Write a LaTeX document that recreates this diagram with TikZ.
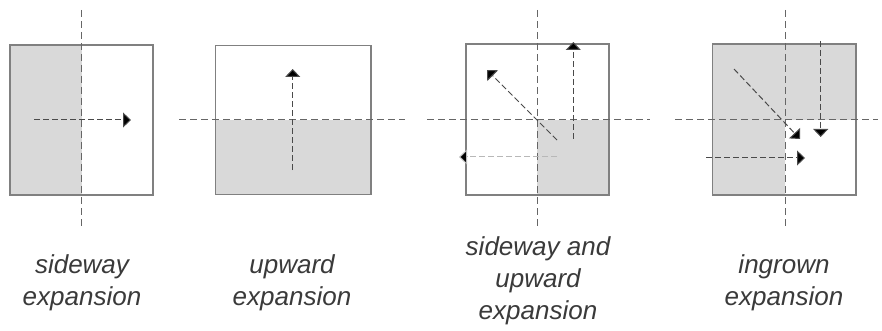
\documentclass[tikz,border=0pt]{standalone}
\usepackage{fontspec}
\setmainfont{Liberation Sans}
\usetikzlibrary{arrows.meta}
\definecolor{shade}{HTML}{D9D9D9}
\definecolor{frame}{HTML}{808080}
\definecolor{axis}{HTML}{666666}
\definecolor{shaft}{HTML}{4A4A4A}
\definecolor{lightshaft}{HTML}{B8B8B8}
\definecolor{txt}{HTML}{3A3A3A}
\tikzset{
  boxframe/.style={draw=frame, line width=1.2pt},
  shadearea/.style={fill=shade, draw=none},
  axisline/.style={draw=axis, line width=1pt, dash pattern=on 7pt off 4pt},
  growarrow/.style={draw=shaft, line width=1pt, dash pattern=on 6pt off 3pt,
    -{Triangle[length=8pt,width=15pt,fill=black]}},
  lightarrow/.style={growarrow, draw=lightshaft},
  caption/.style={font=\itshape\fontsize{26}{32}\selectfont, text=txt, align=center, inner sep=0pt}
}
\begin{document}
\begin{tikzpicture}[x=1pt,y=-1pt]
\useasboundingbox (0,0) rectangle (882,331);
% ---------- panel 1: sideway expansion
\fill[shadearea] (10,45) rectangle (81.5,195);
\draw[boxframe] (10,45) rectangle (153,195);
\draw[axisline] (81.5,10) -- (81.5,228);
\coordinate (a1s) at (34,120);
\coordinate (a1e) at (131,120);
\draw[growarrow] (a1s) -- (a1e);
\node[caption] (c1) at (82,283) {sideway\\expansion};
% ---------- panel 2: upward expansion
\fill[shadearea] (215.7,120) rectangle (371,194.5);
\draw[boxframe] (215.7,45.5) rectangle (371,194.5);
\draw[axisline] (179,120) -- (405,120);
\coordinate (a2s) at (292.7,170);
\coordinate (a2e) at (292.7,69);
\draw[growarrow] (a2s) -- (a2e);
\node[caption] (c2) at (292,283) {upward\\expansion};
% ---------- panel 3: sideway and upward expansion
\fill[shadearea] (537.3,120) rectangle (609,195);
\draw[boxframe] (466,44) rectangle (609,195);
\draw[axisline] (537.3,10) -- (537.3,228);
\draw[axisline] (427,120) -- (650,120);
\coordinate (a3us) at (573.3,139);
\coordinate (a3ue) at (573.3,42);
\coordinate (a3ds) at (557,140);
\coordinate (a3de) at (487,70);
\coordinate (a3ls) at (557,157);
\coordinate (a3le) at (459,157);
\draw[growarrow] (a3us) -- (a3ue);
\draw[growarrow] (a3ds) -- (a3de);
\draw[lightarrow] (a3ls) -- (a3le);
\node[caption] (c3) at (538,281) {sideway and\\upward\\expansion};
% ---------- panel 4: ingrown expansion
\fill[shadearea] (712.7,44) -- (856,44) -- (856,120) -- (785,120) -- (785,195) -- (712.7,195) -- cycle;
\draw[boxframe] (712.7,44) rectangle (856,195);
\draw[axisline] (785,10) -- (785,228);
\draw[axisline] (675,120) -- (878,120);
\coordinate (a4ds) at (734,69);
\coordinate (a4de) at (800,139);
\coordinate (a4vs) at (820.7,41);
\coordinate (a4ve) at (820.7,137);
\coordinate (a4hs) at (706,158);
\coordinate (a4he) at (805,158);
\draw[growarrow] (a4ds) -- (a4de);
\draw[growarrow] (a4vs) -- (a4ve);
\draw[growarrow] (a4hs) -- (a4he);
\node[caption] (c4) at (784,283) {ingrown\\expansion};
\end{tikzpicture}
\end{document}
